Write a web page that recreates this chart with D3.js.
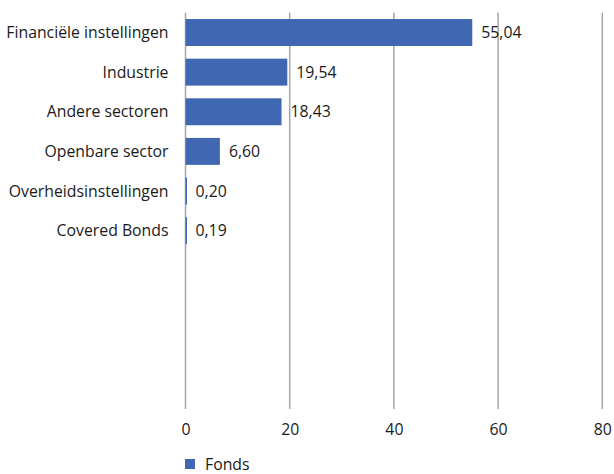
<!DOCTYPE html>
<html>
<head>
<meta charset="utf-8">
<script src="https://cdn.jsdelivr.net/npm/d3@7"></script>
<style>
  html, body { margin: 0; padding: 0; background: #fff; }
  svg text { font-family: "Open Sans", "Noto Sans", sans-serif; fill: #1a1a1a; }
</style>
</head>
<body>
<svg id="chart" width="614" height="474"></svg>
<script>
// Sector breakdown (%)
const categories = ["Financiële instellingen", "Industrie", "Andere sectoren", "Openbare sector", "Overheidsinstellingen", "Covered Bonds"];
const values = [55.04, 19.54, 18.43, 6.60, 0.20, 0.19];
const xTicks = [0, 20, 40, 60, 80];
const seriesName = "Fonds";
const slotCount = 10; // the category axis reserves room for ten rows

const svg = d3.select("#chart");
const plot = { left: 185.5, right: 602.3, top: 12.7, bottom: 409 };
const barColor = "#4068b2";
const gridColor = "#a6a6a6";
const fontSize = 15.8;

const x = d3.scaleLinear().domain([0, 80]).range([plot.left, plot.right]);
const slots = d3.range(slotCount);
const y = d3.scaleBand().domain(slots).range([plot.top, plot.bottom]).paddingInner(0.32).paddingOuter(0.16);

// vertical gridlines
svg.append("g").selectAll("line").data(xTicks).join("line")
  .attr("x1", d => x(d)).attr("x2", d => x(d))
  .attr("y1", plot.top).attr("y2", plot.bottom)
  .attr("stroke", gridColor).attr("stroke-width", 1.5);

// x-axis tick labels
const xAxis = d3.axisBottom(x).tickValues(xTicks).tickSize(0).tickPadding(0).tickFormat(d3.format("d"));
const gx = svg.append("g").attr("transform", `translate(0,${plot.bottom + 15})`).call(xAxis);
gx.select(".domain").remove();
gx.selectAll("text").attr("font-size", fontSize).attr("font-family", null).style("fill", "#1a1a1a");

const rows = categories.map((c, i) => ({ cat: c, val: values[i], slot: i }));

// bars
svg.append("g").selectAll("rect").data(rows).join("rect")
  .attr("x", x(0))
  .attr("y", d => y(d.slot))
  .attr("width", d => Math.max(x(d.val) - x(0), 1.5))
  .attr("height", y.bandwidth())
  .attr("fill", barColor);

// category labels
svg.append("g").selectAll("text").data(rows).join("text")
  .attr("x", plot.left - 17)
  .attr("y", d => y(d.slot) + y.bandwidth() / 2)
  .attr("dy", "0.35em")
  .attr("text-anchor", "end")
  .attr("font-size", fontSize)
  .text(d => d.cat);

// value labels
const fmt = v => v.toFixed(2).replace(".", ",");
svg.append("g").selectAll("text").data(rows).join("text")
  .attr("x", d => x(d.val) + 9)
  .attr("y", d => y(d.slot) + y.bandwidth() / 2)
  .attr("dy", "0.35em")
  .attr("font-size", fontSize)
  .text(d => fmt(d.val));

// legend
const legend = svg.append("g").attr("transform", "translate(185,459)");
legend.append("rect").attr("width", 10).attr("height", 10).attr("fill", barColor);
legend.append("text").attr("x", 20).attr("y", 5).attr("dy", "0.35em").attr("font-size", fontSize).text(seriesName);
</script>
</body>
</html>
